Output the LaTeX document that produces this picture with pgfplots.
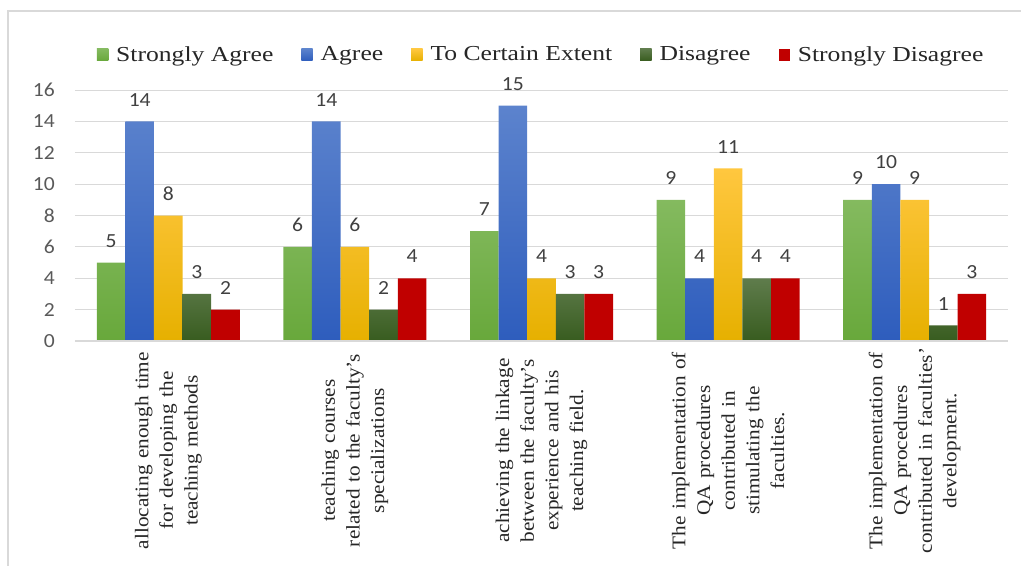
\documentclass[border=0pt]{standalone}
\usepackage{pgfplots}
\pgfplotsset{compat=1.18}
\usepackage{fontspec}
\setmainfont{Liberation Serif}
\newfontfamily\legfont[FakeStretch=1.2]{Liberation Serif}
\newfontfamily\catfont[FakeStretch=1.1]{Liberation Serif}
\newfontfamily\numfont[FakeStretch=1.08]{Carlito}

\definecolor{gridc}{HTML}{D9D9D9}
\definecolor{saT}{HTML}{84BA5F}
\definecolor{saB}{HTML}{68A83B}
\definecolor{agT}{HTML}{5C83CD}
\definecolor{agB}{HTML}{2E5DBD}
\definecolor{ceT}{HTML}{FFC73F}
\definecolor{ceB}{HTML}{E6B000}
\definecolor{diT}{HTML}{5F7C4C}
\definecolor{diB}{HTML}{385C1F}
\definecolor{sdC}{HTML}{C00000}
\definecolor{txt}{HTML}{262626}
\definecolor{tick}{HTML}{595959}
\definecolor{lab}{HTML}{404040}

\begin{document}
\begin{tikzpicture}
\path[use as bounding box] (-56.25pt,-168pt) rectangle (709.5pt,255.75pt);
\draw[gridc, line width=1.5pt] (-49.875pt,-170pt) -- (-49.875pt,247.875pt) -- (712pt,247.875pt);
\begin{axis}[
  scale only axis,
  width=699.75pt, height=188.25pt,
  at={(0pt,0pt)}, anchor=south west,
  xmin=-0.5, xmax=4.5,
  ymin=0, ymax=16,
  ytick={0,2,...,16},
  xtick={0,1,2,3,4},
  xticklabels={
    {allocating enough time\\for developing the\\teaching methods},
    {teaching courses\\related to the faculty’s\\specializations},
    {achieving the linkage\\between the faculty’s\\experience and his\\teaching field.},
    {The implementation of\\QA procedures\\contributed in\\stimulating the\\faculties.},
    {The implementation of\\QA procedures\\contributed in faculties’\\development.}},
  xticklabel style={rotate=90, anchor=east, text width=164pt, align=center,
    inner sep=0pt, font=\catfont\fontsize{14.5pt}{18.5pt}\selectfont, text=txt},
  xticklabel shift=0pt,
  yticklabel style={font=\numfont\fontsize{15pt}{18pt}\selectfont, text=tick, anchor=east, inner sep=0pt, xshift=-15pt},
  /pgf/number format/assume math mode=true,
  major tick length=0pt,
  ymajorgrids, grid style={gridc, line width=0.75pt},
  axis x line*=bottom,
  axis y line*=left,
  axis line style={draw=none},
  ybar=0pt,
  bar width=21.45pt,
  nodes near coords,
  every node near coord/.append style={font=\numfont\fontsize{15pt}{18pt}\selectfont, text=lab, anchor=south, inner sep=0pt, yshift=11.25pt},
  legend columns=5,
  legend style={at={(0.5,1.14)}, anchor=center, draw=none, fill=none,
    font=\legfont\fontsize{16pt}{19pt}\selectfont, text=txt,
    /tikz/every even column/.append style={column sep=19pt},
    /tikz/every odd column/.append style={column sep=4pt}},
  legend image code/.code={\path[#1, draw=none] (0pt,-4.5pt) rectangle (8.5pt,4.5pt);},
]
\addplot[draw=none, top color=saT, bottom color=saB] coordinates {(0,5) (1,6) (2,7) (3,9) (4,9)};
\addplot[draw=none, top color=agT, bottom color=agB] coordinates {(0,14) (1,14) (2,15) (3,4) (4,10)};
\addplot[draw=none, top color=ceT, bottom color=ceB] coordinates {(0,8) (1,6) (2,4) (3,11) (4,9)};
\addplot[draw=none, top color=diT, bottom color=diB] coordinates {(0,3) (1,2) (2,3) (3,4) (4,1)};
\addplot[draw=none, fill=sdC] coordinates {(0,2) (1,4) (2,3) (3,4) (4,3)};
\legend{Strongly Agree, Agree, To Certain Extent, Disagree, Strongly Disagree}
\draw[gridc, line width=1.5pt] (rel axis cs:0,0) -- (rel axis cs:1,0);
\end{axis}
\end{tikzpicture}
\end{document}
